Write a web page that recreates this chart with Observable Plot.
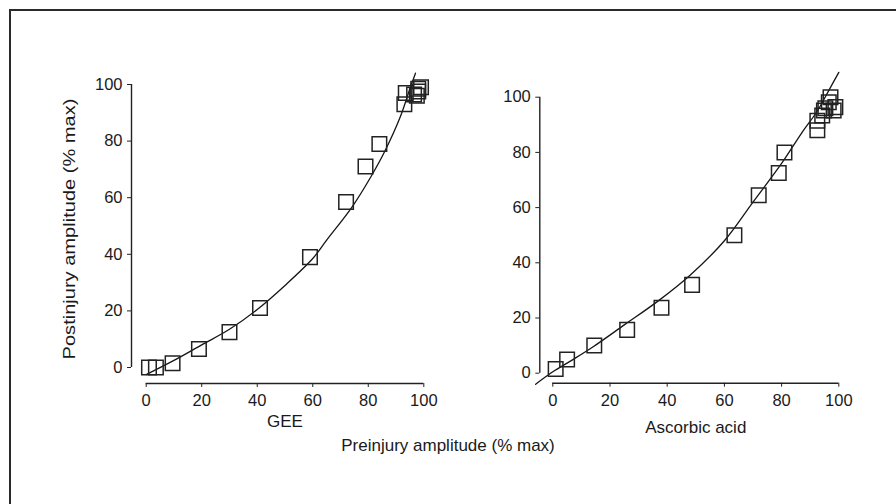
<!DOCTYPE html>
<html><head><meta charset="utf-8">
<script src="https://cdn.jsdelivr.net/npm/d3@7"></script>
<script src="https://cdn.jsdelivr.net/npm/@observablehq/plot@0.6"></script>
<style>
html,body{margin:0;padding:0;background:#fff;}
#wrap{position:relative;width:896px;height:504px;overflow:hidden;font-family:"Liberation Sans",Arial,Helvetica,sans-serif;color:#1a1a1a;}
#frame{position:absolute;left:9px;top:9px;width:1000px;height:1000px;border-left:2px solid #2b2b2b;border-top:2px solid #2b2b2b;}
.panel{position:absolute;top:0;}
#xlab{position:absolute;left:0;width:896px;top:436px;text-align:center;font-size:17px;line-height:20px;}
#ylab{position:absolute;left:70px;top:229px;transform:translate(-50%,-50%) rotate(-90deg) scaleX(1.18);white-space:nowrap;font-size:17px;line-height:20px;}
</style></head>
<body>
<div id="wrap">
  <div id="frame"></div>
  <div id="left" class="panel" style="left:0"></div>
  <div id="right" class="panel" style="left:448px"></div>
  <div id="xlab">Preinjury amplitude (% max)</div>
  <div id="ylab">Postinjury amplitude (% max)</div>
</div>
<script>
// Tick values
const xTicks = [0, 20, 40, 60, 80, 100];
const yTicks = [0, 20, 40, 60, 80, 100];
const panelLabels = ["GEE", "Ascorbic acid"];

// GEE panel: measured points
const geeX = [1, 3.5, 9.5, 19, 30, 41, 59, 72, 79, 84, 93, 93.5, 96.5, 97.5, 98, 99, 98];
const geeY = [0, 0, 1.5, 6.5, 12.5, 21, 39, 58.5, 71, 79, 93, 97, 96.5, 96, 98.5, 99, 97.5];
// GEE panel: fitted curve
const geeCurveX = [0, 10, 20, 30, 40, 50, 60, 65, 74, 81, 86, 91.5, 95, 97];
const geeCurveY = [-2.5, 2.5, 8, 13.5, 20.5, 29, 38.5, 45, 56.5, 67.5, 76.5, 88.5, 98.5, 104];

// Ascorbic acid panel: measured points
const ascX = [1, 5, 14.5, 26, 38, 48.7, 63.5, 72, 79, 81, 92.5, 92.5, 94.2, 94.8, 95.3, 96.5, 97.1, 98.2, 98.8];
const ascY = [1.5, 5, 10, 15.7, 23.7, 32, 50, 64.5, 72.5, 80, 88, 91.5, 93.4, 95.2, 96, 98.2, 100, 95.2, 96.4];
// Ascorbic acid panel: fitted curve
const ascCurveX = [-6, 0, 6, 14, 25, 37, 48, 60, 70, 80, 87, 92.5, 96, 100];
const ascCurveY = [-4, 0.5, 4.3, 9.5, 17.5, 26.3, 35.5, 48, 62, 76, 87, 95, 101.5, 109];

const zip = (xs, ys) => xs.map((x, i) => ({x, y: ys[i]}));

function panel({pts, curve, label, margins, offX, offY}) {
  return Plot.plot({
    width: 448,
    height: 504,
    ...margins,
    style: {background: "transparent", fontFamily: '"Liberation Sans", Arial, Helvetica, sans-serif', fontSize: "16.5px", color: "#1a1a1a", overflow: "visible"},
    x: {domain: [0, 100]},
    y: {domain: [0, 100]},
    marks: [
      Plot.ruleX([{x: 0, y1: 0, y2: 100}], {x: "x", y1: "y1", y2: "y2", dx: -offX, stroke: "#222", strokeWidth: 1.4}),
      Plot.ruleY([{y: 0, x1: 0, x2: 100}], {y: "y", x1: "x1", x2: "x2", dy: offY, stroke: "#222", strokeWidth: 1.4}),
      Plot.axisY({ticks: yTicks, tickSize: 4, tickPadding: 5, dx: -offX, label: null, fontSize: 16.5, stroke: "#222"}),
      Plot.axisX({ticks: xTicks, tickSize: 4, tickPadding: 7, dy: offY, label: null, fontSize: 16.5, stroke: "#222"}),
      Plot.line(curve, {x: "x", y: "y", curve: "catmull-rom", stroke: "#151515", strokeWidth: 1.3}),
      Plot.dot(pts, {x: "x", y: "y", symbol: "square", r: 8.2, stroke: "#222", strokeWidth: 1.5, fill: "none"}),
      Plot.text([label], {text: d => d, frameAnchor: "bottom", dy: 54, fontSize: 17, lineAnchor: "middle"})
    ]
  });
}

document.getElementById("left").append(panel({
  pts: zip(geeX, geeY), curve: zip(geeCurveX, geeCurveY), label: panelLabels[0],
  margins: {marginLeft: 145.7, marginRight: 24.7, marginTop: 84, marginBottom: 137},
  offX: 14.7, offY: 16
}));
document.getElementById("right").append(panel({
  pts: zip(ascX, ascY), curve: zip(ascCurveX, ascCurveY), label: panelLabels[1],
  margins: {marginLeft: 104.3, marginRight: 57.7, marginTop: 96.7, marginBottom: 131.3},
  offX: 13, offY: 10
}));
</script>
</body></html>
